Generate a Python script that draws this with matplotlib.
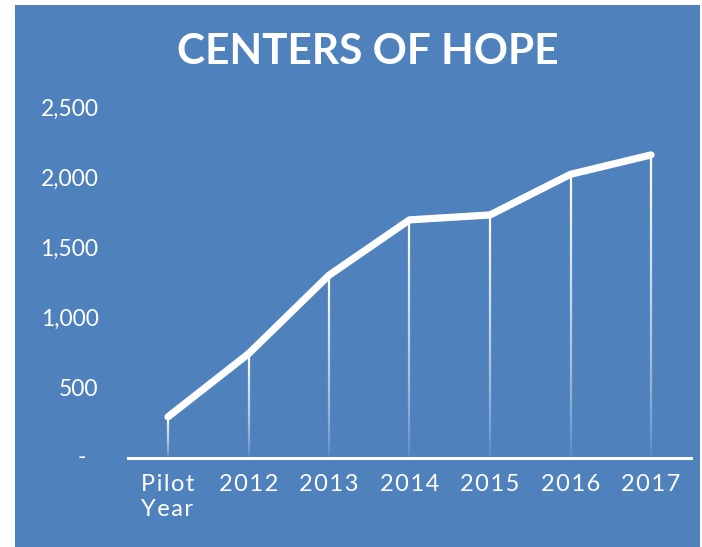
import numpy as np
import matplotlib
matplotlib.use("Agg")
import matplotlib.pyplot as plt
from matplotlib.collections import LineCollection
from matplotlib.patches import Rectangle

categories = ["Pilot\nYear", "2012", "2013", "2014", "2015", "2016", "2017"]
values = [290, 740, 1300, 1695, 1730, 2020, 2158]
yticks = [0, 500, 1000, 1500, 2000, 2500]
ytick_labels = ["", "500", "1,000", "1,500", "2,000", "2,500"]
zero_label = "-"
title = "CENTERS OF HOPE"

BLUE = "#4f81bd"
W, H = 702, 547
fig = plt.figure(figsize=(W / 100, H / 100), dpi=100, facecolor="white")
fig.patches.append(Rectangle((15 / W, 0), (700 - 15) / W, 1 - 5 / H,
                             transform=fig.transFigure, facecolor=BLUE,
                             edgecolor="none", zorder=-10))

left, right = 127.75 / W, 691.25 / W
bottom, top = 1 - 457.5 / H, 1 - 107 / H
ax = fig.add_axes([left, bottom, right - left, top - bottom], zorder=5)
ax.set_facecolor("none")
ax.patch.set_alpha(0)
ax.set_xlim(-0.5, len(categories) - 0.5)
ax.set_ylim(0, 2500)

fam = ["Lato", "DejaVu Sans"]
sp = "\u200a"

def spaced(s, n=1):
    return "\n".join((sp * n).join(list(line)) for line in s.split("\n"))

x = np.arange(len(categories))

# drop lines with fading gradient
segs, cols = [], []
N = 60
for xi, v in zip(x, values):
    ys = np.linspace(0, v, N + 1)
    for k in range(N):
        t = (k + 0.5) / N
        a = 0.04 + 0.96 * t ** 0.7
        segs.append([(xi, ys[k]), (xi, ys[k + 1])])
        cols.append((1, 1, 1, a))
lc = LineCollection(segs, colors=cols, linewidths=1.6, capstyle="butt", zorder=2)
ax.add_collection(lc)

ax.plot(x, values, color="white", lw=5.2, solid_capstyle="round",
        solid_joinstyle="round", zorder=3, clip_on=False)

for s in ["top", "right", "left"]:
    ax.spines[s].set_visible(False)
ax.spines["bottom"].set_color("white")
ax.spines["bottom"].set_linewidth(2.2)
ax.spines["bottom"].set_zorder(4)

ax.set_xticks(x)
ax.set_xticklabels([spaced(c) for c in categories], family=fam, fontsize=17,
                   color="white", multialignment="left", linespacing=1.25,
                   fontweight="normal")
ax.set_yticks(yticks)
ax.set_yticklabels(ytick_labels, family=fam, fontsize=16.5, color="white",
                   fontweight="normal")
ax.tick_params(axis="x", length=0, pad=12)
ax.tick_params(axis="y", length=0, pad=21)

# zero label "-" sits further left (accounting format)
ax.annotate(zero_label, xy=(0, yticks[0]), xycoords=("axes fraction", "data"),
            xytext=(-30, 0), textcoords="offset points", ha="right", va="center",
            family=fam, fontsize=16.5, color="white", annotation_clip=False)

fig.text(367.5 / W, 1 - 52 / H, title, ha="center", va="center",
         fontsize=30.5, fontweight="bold", color="white", family=fam)

fig.savefig("out.png", dpi=100, facecolor="white")
